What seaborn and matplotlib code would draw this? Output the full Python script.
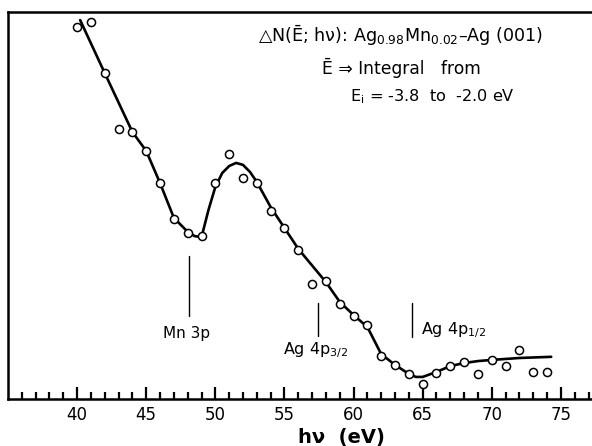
import numpy as np
import pandas as pd
import matplotlib
matplotlib.use("Agg")
import matplotlib.pyplot as plt
import seaborn as sns

# ---- data (y in arbitrary units) ----
hv_points = [40, 41, 42, 43, 44, 45, 46, 47, 48, 49, 50, 51, 52, 53, 54, 55, 56,
             57, 58, 59, 60, 61, 62, 63, 64, 65, 66, 67, 68, 69, 70, 71, 72, 73, 74]
dN_points = [9.61, 9.74, 8.42, 6.98, 6.90, 6.41, 5.58, 4.65, 4.29, 4.21, 5.58, 6.33,
             5.71, 5.58, 4.86, 4.42, 3.85, 2.97, 3.05, 2.45, 2.14, 1.91, 1.11, 0.88,
             0.65, 0.39, 0.67, 0.85, 0.96, 0.65, 1.01, 0.85, 1.27, 0.70, 0.70]

curve_hv = [40.22, 42, 44, 45, 46, 47, 48, 48.5, 49, 49.5, 50, 50.5, 51, 51.5, 52,
            52.5, 53, 54, 55, 56, 57, 58, 59, 60, 61, 62, 63, 64, 64.5, 65, 66, 67,
            68, 69, 70, 72, 74.3]
curve_dN = [9.79, 8.42, 6.90, 6.41, 5.58, 4.68, 4.32, 4.21, 4.18, 4.88, 5.48, 5.84,
            6.02, 6.10, 6.05, 5.87, 5.61, 4.96, 4.42, 3.88, 3.45, 3.02, 2.51, 2.17,
            1.86, 1.16, 0.88, 0.65, 0.57, 0.57, 0.70, 0.85, 0.93, 0.98, 1.01, 1.06,
            1.09]

major_ticks = [40, 45, 50, 55, 60, 65, 70, 75]
marker_labels = ["Mn 3p", "Ag 4p$_{3/2}$", "Ag 4p$_{1/2}$"]
marker_hv = [48.1, 57.43, 64.22]

sns.set_style("white")
plt.rcParams["font.family"] = ["DejaVu Sans"]
plt.rcParams["mathtext.default"] = "regular"
plt.rcParams["text.color"] = "black"
plt.rcParams["xtick.color"] = "black"
plt.rcParams["xtick.labelcolor"] = "black"

fig = plt.figure(figsize=(5.92, 4.46), dpi=100)
ax = fig.add_axes([8 / 592, (446 - 399) / 446, (592 - 8) / 592, 387 / 446])

pts = pd.DataFrame({"hv": hv_points, "dN": dN_points})
crv = pd.DataFrame({"hv": curve_hv, "dN": curve_dN})

sns.lineplot(data=crv, x="hv", y="dN", sort=False, estimator=None, color="black",
             linewidth=1.9, ax=ax, zorder=2)
sns.scatterplot(data=pts, x="hv", y="dN", marker="o", s=34, facecolor="white",
                edgecolor="black", linewidth=1.1, ax=ax, zorder=3)

ax.set_xlim(35.0, 77.25)
ax.set_ylim(0, 10)
ax.set_xlabel("")
ax.set_ylabel("")
ax.set_yticks([])
ax.set_xticks(major_ticks)
ax.set_xticks(np.arange(36, 78, 1), minor=True)
ax.tick_params(axis="x", which="major", direction="in", length=9, width=1.6,
               labelsize=12, pad=5, bottom=True, top=False, color="black",
               labelcolor="black")
ax.tick_params(axis="x", which="minor", direction="in", length=5, width=1.6,
               bottom=True, top=False, color="black")
for s in ["left", "bottom", "top"]:
    ax.spines[s].set_visible(True)
    ax.spines[s].set_color("black")
    ax.spines[s].set_linewidth(1.8)
ax.spines["right"].set_visible(False)

# marker lines and labels
ax.plot([marker_hv[0]] * 2, [2.14, 3.70], color="black", lw=1.0)
ax.plot([marker_hv[1]] * 2, [1.63, 2.48], color="black", lw=1.0)
ax.plot([marker_hv[2]] * 2, [1.60, 2.48], color="black", lw=1.0)
ax.text(47.95, 1.58, marker_labels[0], ha="center", va="baseline", fontsize=11)
ax.text(54.9, 1.16, marker_labels[1], ha="left", va="baseline", fontsize=11.5)
ax.text(64.87, 1.68, marker_labels[2], ha="left", va="baseline", fontsize=11.5)

# info text
ax.text(53.09, 9.41, "\u25B3N(\u0112; h\u03BD): Ag$_{0.98}$Mn$_{0.02}$\u2013Ag (001)",
        ha="left", va="center", fontsize=12.6)
ax.text(57.72, 8.55, "\u0112 \u21D2 Integral   from", ha="left", va="center",
        fontsize=12.3)
ax.text(59.74, 7.80, "E$_i$ = -3.8  to  -2.0 eV", ha="left", va="center",
        fontsize=11.6)

fig.text(341 / 592, 1 - 437 / 446, "h\u03BD  (eV)", ha="center", va="center",
         fontsize=14, fontweight="bold")

fig.savefig("out.png", dpi=100)
